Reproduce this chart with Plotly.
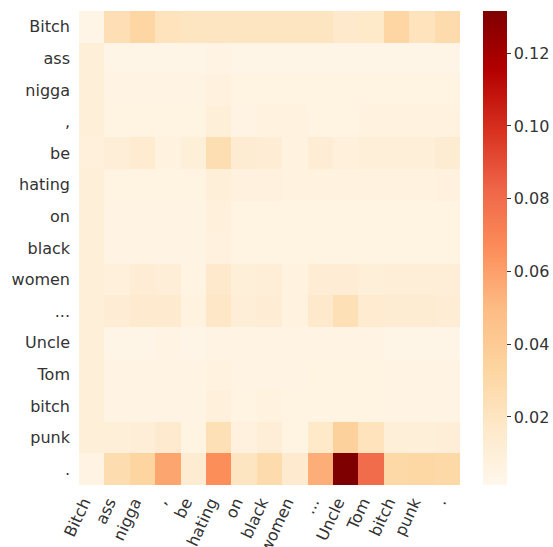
import plotly.graph_objects as go

tokens = ["Bitch", "ass", "nigga", ",", "be", "hating", "on", "black",
          "women", "...", "Uncle", "Tom", "bitch", "punk", "."]

# attention weights: one row per query token, one column per key token
row_bitch  = [0.004, 0.025, 0.032, 0.022, 0.020, 0.020, 0.020, 0.020, 0.020, 0.020, 0.016, 0.017, 0.032, 0.022, 0.028]
row_ass    = [0.010, 0.004, 0.004, 0.004, 0.004, 0.005, 0.004, 0.004, 0.004, 0.004, 0.004, 0.004, 0.004, 0.004, 0.004]
row_nigga  = [0.010, 0.005, 0.005, 0.005, 0.005, 0.008, 0.006, 0.006, 0.006, 0.006, 0.006, 0.006, 0.006, 0.006, 0.006]
row_comma  = [0.010, 0.006, 0.006, 0.006, 0.006, 0.010, 0.005, 0.007, 0.007, 0.006, 0.006, 0.007, 0.007, 0.007, 0.007]
row_be     = [0.009, 0.011, 0.014, 0.007, 0.010, 0.026, 0.013, 0.012, 0.007, 0.012, 0.009, 0.010, 0.010, 0.010, 0.013]
row_hating = [0.010, 0.006, 0.006, 0.006, 0.006, 0.010, 0.008, 0.008, 0.007, 0.007, 0.007, 0.007, 0.007, 0.007, 0.008]
row_on     = [0.010, 0.005, 0.005, 0.005, 0.005, 0.009, 0.006, 0.006, 0.006, 0.006, 0.006, 0.006, 0.006, 0.006, 0.006]
row_black  = [0.010, 0.005, 0.005, 0.005, 0.005, 0.008, 0.006, 0.006, 0.006, 0.006, 0.006, 0.006, 0.006, 0.006, 0.006]
row_women  = [0.010, 0.009, 0.012, 0.011, 0.006, 0.016, 0.010, 0.011, 0.007, 0.012, 0.012, 0.010, 0.011, 0.011, 0.011]
row_dots   = [0.010, 0.012, 0.015, 0.015, 0.007, 0.018, 0.011, 0.012, 0.007, 0.016, 0.024, 0.014, 0.013, 0.013, 0.012]
row_uncle  = [0.010, 0.004, 0.004, 0.005, 0.004, 0.005, 0.005, 0.005, 0.005, 0.005, 0.005, 0.005, 0.004, 0.004, 0.004]
row_tom    = [0.010, 0.005, 0.005, 0.005, 0.005, 0.007, 0.005, 0.005, 0.005, 0.006, 0.006, 0.006, 0.005, 0.005, 0.005]
row_bitch2 = [0.010, 0.005, 0.005, 0.005, 0.005, 0.009, 0.006, 0.007, 0.006, 0.006, 0.006, 0.006, 0.005, 0.005, 0.005]
row_punk   = [0.010, 0.010, 0.011, 0.015, 0.006, 0.024, 0.008, 0.011, 0.006, 0.017, 0.036, 0.022, 0.010, 0.010, 0.011]
row_period = [0.005, 0.027, 0.033, 0.058, 0.013, 0.066, 0.020, 0.028, 0.015, 0.055, 0.1316, 0.080, 0.030, 0.031, 0.030]

weights = [row_bitch, row_ass, row_nigga, row_comma, row_be, row_hating, row_on,
           row_black, row_women, row_dots, row_uncle, row_tom, row_bitch2,
           row_punk, row_period]

colorbar_ticks = [0.02, 0.04, 0.06, 0.08, 0.10, 0.12]

W, H = 553, 547
idx = list(range(len(tokens)))
FONT = dict(family="DejaVu Sans", size=16, color="#333333")

fig = go.Figure(
    go.Heatmap(
        z=weights,
        x=idx,
        y=idx,
        colorscale="OrRd",
        zmin=0.0013,
        zmax=0.1316,
        colorbar=dict(
            xref="container",
            x=483 / W,
            xanchor="left",
            xpad=0,
            y=0.5,
            yanchor="middle",
            ypad=0,
            len=1,
            lenmode="fraction",
            thickness=24,
            outlinewidth=0,
            tickvals=colorbar_ticks,
            ticktext=[f"{t:.2f}" for t in colorbar_ticks],
            ticks="outside",
            ticklen=4,
            tickwidth=1,
            tickcolor="#333333",
            tickfont=FONT,
        ),
    )
)

fig.update_layout(
    width=W,
    height=H,
    margin=dict(l=79, r=93, t=11, b=62, autoexpand=False),
    paper_bgcolor="white",
    plot_bgcolor="white",
    font=FONT,
    xaxis=dict(
        tickmode="array",
        tickvals=idx,
        ticktext=tokens,
        tickangle=-65,
        automargin=False,
        showgrid=False,
        zeroline=False,
        showline=False,
        ticks="",
        ticklabelstandoff=4,
        ticklabelshift=-8,
        range=[-0.5, len(tokens) - 0.5],
        tickfont=FONT,
    ),
    yaxis=dict(
        tickmode="array",
        tickvals=idx,
        ticktext=tokens,
        automargin=False,
        autorange=False,
        range=[len(tokens) - 0.5, -0.5],
        showgrid=False,
        zeroline=False,
        showline=False,
        ticks="",
        ticklabelstandoff=8,
        tickfont=FONT,
    ),
)

fig.write_html("out.html")
